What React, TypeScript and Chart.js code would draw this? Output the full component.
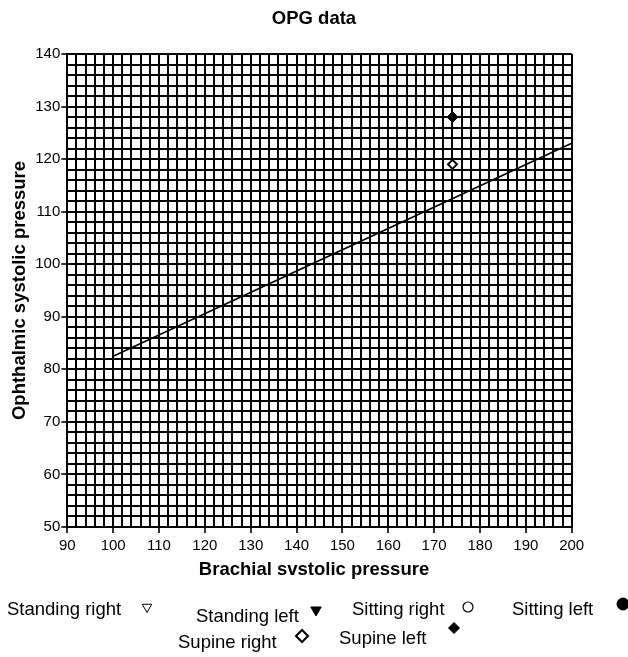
import React, { useEffect, useRef } from 'react';
import { Chart, registerables } from 'chart.js';
import { drawPoint } from 'chart.js/helpers';

Chart.register(...registerables);

// ---------- data ----------
type Pt = { x: number; y: number };

const CHART_TITLE = 'OPG data';
const X_TITLE = 'Brachial svstolic pressure';
const Y_TITLE = 'Ophthalmic systolic pressure';

const X_MIN = 90;
const X_MAX = 200;
const Y_MIN = 50;
const Y_MAX = 140;
const GRID_STEP = 2;
const LABEL_STEP = 10;

const SERIES_LABELS = ['Standing right', 'Standing left', 'Sitting right', 'Sitting left', 'Supine right', 'Supine left'];
const STANDING_RIGHT: Pt[] = [];
const STANDING_LEFT: Pt[] = [];
const SITTING_RIGHT: Pt[] = [];
const SITTING_LEFT: Pt[] = [];
const SUPINE_RIGHT: Pt[] = [{ x: 174, y: 119 }];
const SUPINE_LEFT: Pt[] = [{ x: 174, y: 128 }];

const FIT_LINE_X = [100, 200];
const FIT_LINE_Y = [82.5, 123];

// ---------- layout / style ----------
const FONT = "'Liberation Sans', Arial, Helvetica, sans-serif";
const W = 628;
const H = 657;

// legend layout: [textLeft, textCenterY, symbolX, symbolY, symbolRadius]
const LEGEND_LAYOUT: number[][] = [
  [7, 610, 147, 607, 5.5],
  [196, 617, 316, 610, 6],
  [352, 610, 468, 607, 5],
  [512, 610, 623, 604, 6],
  [178, 643, 302, 636, 6],
  [339, 639, 454, 628, 5.5],
];

const SERIES_DATA = [STANDING_RIGHT, STANDING_LEFT, SITTING_RIGHT, SITTING_LEFT, SUPINE_RIGHT, SUPINE_LEFT];
const SERIES_STYLE = [
  { pointStyle: 'triangle', rotation: 180, backgroundColor: '#fff', borderColor: '#000', borderWidth: 1, radius: 5 },
  { pointStyle: 'triangle', rotation: 180, backgroundColor: '#000', borderColor: '#000', borderWidth: 1, radius: 5 },
  { pointStyle: 'circle', rotation: 0, backgroundColor: '#fff', borderColor: '#000', borderWidth: 1.2, radius: 5 },
  { pointStyle: 'circle', rotation: 0, backgroundColor: '#000', borderColor: '#000', borderWidth: 1, radius: 5 },
  { pointStyle: 'rectRot', rotation: 0, backgroundColor: '#fff', borderColor: '#000', borderWidth: 2, radius: 4.5 },
  { pointStyle: 'rectRot', rotation: 0, backgroundColor: '#000', borderColor: '#000', borderWidth: 1, radius: 5.5 },
];

const customLegend = {
  id: 'customLegend',
  afterDraw(chart: any) {
    const ctx = chart.ctx as CanvasRenderingContext2D;
    ctx.save();
    ctx.font = `18.5px ${FONT}`;
    ctx.textBaseline = 'middle';
    ctx.textAlign = 'left';
    SERIES_LABELS.forEach((label, i) => {
      const [tx, ty, sx, sy, r] = LEGEND_LAYOUT[i];
      const ds = chart.data.datasets[i + 1];
      ctx.fillStyle = '#000';
      ctx.fillText(label, tx, ty);
      ctx.fillStyle = ds.backgroundColor;
      ctx.strokeStyle = ds.borderColor;
      ctx.lineWidth = ds.borderWidth;
      drawPoint(ctx, { pointStyle: ds.pointStyle, rotation: ds.rotation, radius: r, borderWidth: ds.borderWidth } as any, sx, sy);
    });
    ctx.restore();
  },
};

const tickMarkColor = (c: any) => (c.tick && Math.abs(c.tick.value % LABEL_STEP) < 1e-6 ? '#000' : 'rgba(0,0,0,0)');
const tickLabel = (v: any) => (Math.abs(Number(v) % LABEL_STEP) < 1e-6 ? String(v) : '');

export default function App() {
  const ref = useRef<HTMLCanvasElement>(null);

  useEffect(() => {
    Chart.defaults.font.family = FONT;
    Chart.defaults.color = '#000';

    const datasets: any[] = [
      {
        label: 'fit',
        data: FIT_LINE_X.map((x, i) => ({ x, y: FIT_LINE_Y[i] })),
        showLine: true,
        borderColor: '#000',
        borderWidth: 1.6,
        pointRadius: 0,
        fill: false,
      },
      ...SERIES_LABELS.map((label, i) => ({
        label,
        data: SERIES_DATA[i],
        pointStyle: SERIES_STYLE[i].pointStyle,
        rotation: SERIES_STYLE[i].rotation,
        backgroundColor: SERIES_STYLE[i].backgroundColor,
        borderColor: SERIES_STYLE[i].borderColor,
        borderWidth: SERIES_STYLE[i].borderWidth,
        pointRadius: SERIES_STYLE[i].radius,
        showLine: false,
      })),
    ];

    const gridOpts = {
      color: '#000',
      lineWidth: 2,
      tickLength: 6,
      tickColor: tickMarkColor,
      tickWidth: 1.6,
    };

    const chart = new Chart(ref.current!, {
      type: 'scatter',
      data: { datasets },
      plugins: [customLegend],
      options: {
        responsive: false,
        animation: false,
        devicePixelRatio: 1,
        layout: { padding: { left: 0, right: 0, top: 0, bottom: 75.9 } },
        plugins: {
          legend: { display: false },
          tooltip: { enabled: false },
          title: {
            display: true,
            text: CHART_TITLE,
            color: '#000',
            font: { family: FONT, size: 18.5, weight: 'bold' },
            padding: { top: 7.9, bottom: 23.9 },
          },
          subtitle: {
            display: true,
            position: 'bottom',
            text: X_TITLE,
            color: '#000',
            font: { family: FONT, size: 18.5, weight: 'bold' },
            padding: { top: 1.9, bottom: 0 },
          },
        },
        scales: {
          x: {
            type: 'linear',
            position: 'bottom',
            min: X_MIN,
            max: X_MAX,
            afterFit: (s: any) => {
              s.height = 30;
            },
            ticks: {
              stepSize: GRID_STEP,
              autoSkip: false,
              maxRotation: 0,
              minRotation: 0,
              padding: 4,
              color: '#000',
              font: { family: FONT, size: 15 },
              callback: tickLabel,
            },
            grid: gridOpts,
            border: { display: true, color: '#000', width: 2 },
          },
          y: {
            type: 'linear',
            position: 'left',
            min: Y_MIN,
            max: Y_MAX,
            afterFit: (s: any) => {
              s.width = 67.3;
            },
            ticks: {
              stepSize: GRID_STEP,
              autoSkip: false,
              padding: 1,
              color: '#000',
              font: { family: FONT, size: 15 },
              callback: tickLabel,
            },
            grid: gridOpts,
            border: { display: true, color: '#000', width: 2 },
            title: {
              display: true,
              text: Y_TITLE,
              color: '#000',
              font: { family: FONT, size: 18.5, weight: 'bold' },
              padding: { top: 9, bottom: 0 },
            },
          },
          yRight: {
            type: 'linear',
            position: 'right',
            display: true,
            afterFit: (s: any) => {
              s.width = 56.3;
            },
            grid: { display: false, drawTicks: false },
            border: { display: false },
            ticks: { display: false },
          },
        },
      } as any,
    });
    return () => chart.destroy();
  }, []);

  return (
    <div style={{ position: 'fixed', left: 0, top: 0, width: W, height: H, background: '#fff' }}>
      <canvas ref={ref} width={W} height={H} style={{ display: 'block', width: W, height: H }} />
    </div>
  );
}
